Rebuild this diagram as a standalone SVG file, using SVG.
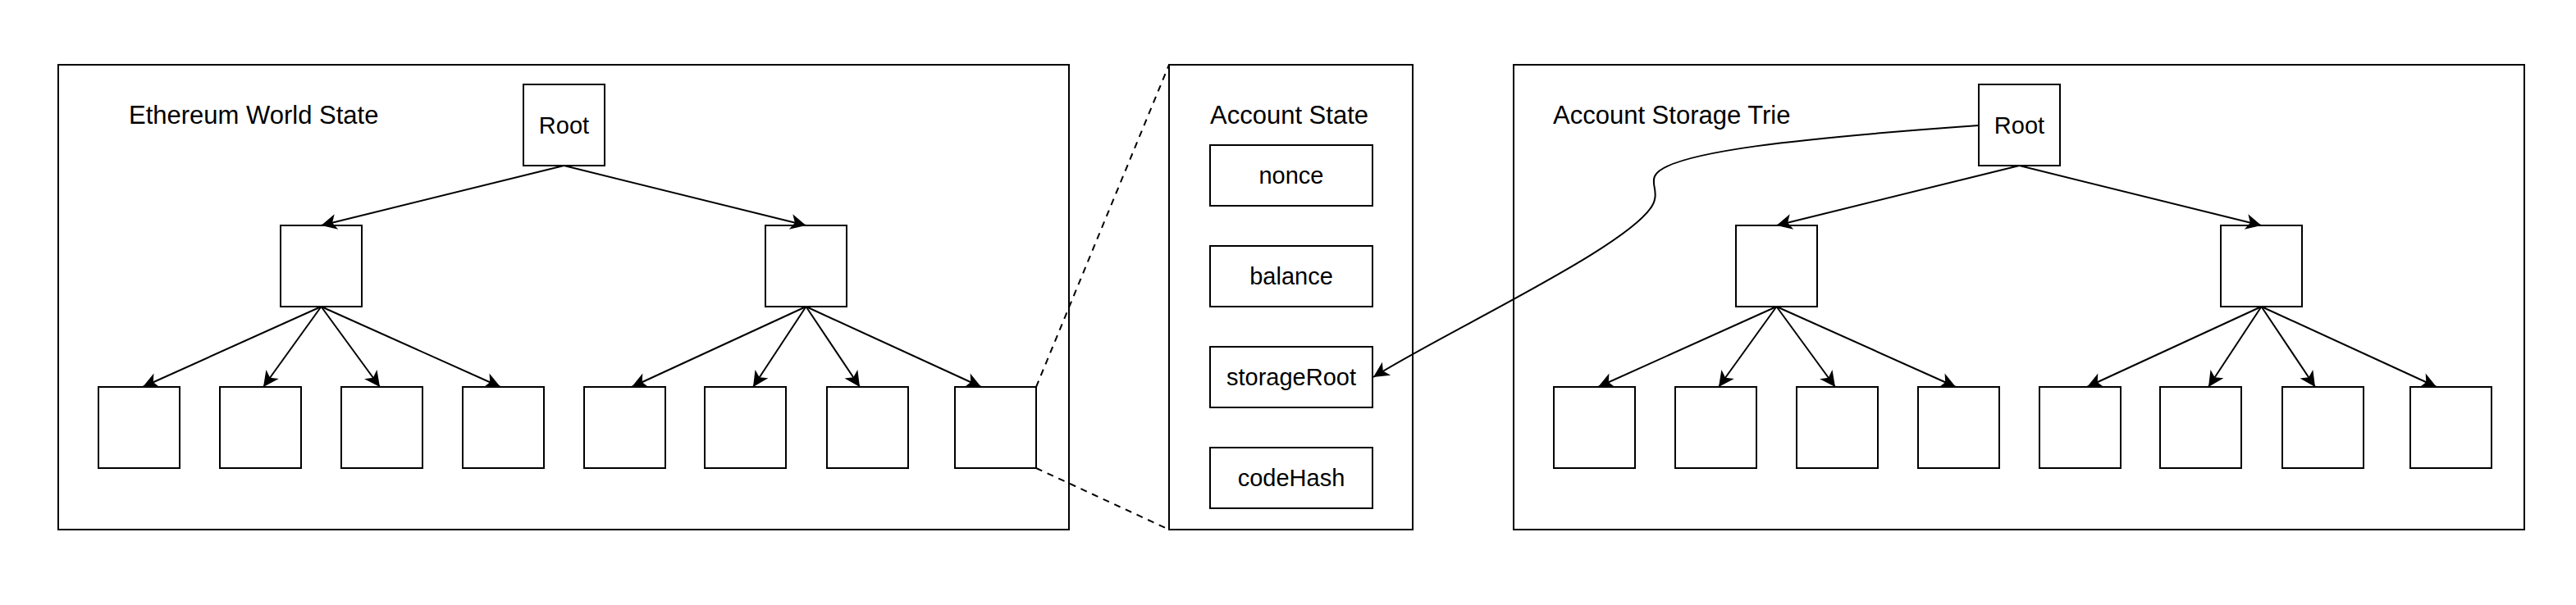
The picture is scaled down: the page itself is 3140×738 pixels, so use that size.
<svg xmlns="http://www.w3.org/2000/svg" width="3140" height="738" viewBox="0 0 3140 738">
  <style>
    .box { fill: #ffffff; stroke: #000000; stroke-width: 2; }
    .frame { fill: none; stroke: #000000; stroke-width: 2; }
    .edge { fill: none; stroke: #000000; stroke-width: 2; marker-end: url(#arrow); }
    .dash { fill: none; stroke: #000000; stroke-width: 2; stroke-dasharray: 8 7; }
    .title { font-family: "Liberation Sans", Arial, sans-serif; font-size: 31px; fill: #000000; }
    .label { font-family: "Liberation Sans", Arial, sans-serif; font-size: 29px; fill: #000000; text-anchor: middle; }
  </style>
  <defs>
    <marker id="arrow" markerUnits="userSpaceOnUse" viewBox="-21 -11 23 22" markerWidth="23" markerHeight="22" refX="0" refY="0" orient="auto">
      <path d="M0,0 L-19,-9.5 L-14,0 L-19,9.5 Z" fill="#000000"/>
    </marker>
  </defs>
  <rect width="3140" height="738" fill="#ffffff"/>

  <!-- Ethereum World State panel -->
  <g id="world-state">
    <rect class="frame" x="71" y="79" width="1232" height="567"/>
    <text class="title" x="157" y="151">Ethereum World State</text>
  </g>
  <g id="ws-root"><rect class="box" x="638" y="103" width="99" height="99"/><text class="label" x="687.5" y="163">Root</text></g>
  <g id="ws-mid-1"><rect class="box" x="342" y="275" width="99" height="99"/></g>
  <g id="ws-mid-2"><rect class="box" x="933" y="275" width="99" height="99"/></g>
  <g id="ws-leaf-1"><rect class="box" x="120" y="472" width="99" height="99"/></g>
  <g id="ws-leaf-2"><rect class="box" x="268" y="472" width="99" height="99"/></g>
  <g id="ws-leaf-3"><rect class="box" x="416" y="472" width="99" height="99"/></g>
  <g id="ws-leaf-4"><rect class="box" x="564" y="472" width="99" height="99"/></g>
  <g id="ws-leaf-5"><rect class="box" x="712" y="472" width="99" height="99"/></g>
  <g id="ws-leaf-6"><rect class="box" x="859" y="472" width="99" height="99"/></g>
  <g id="ws-leaf-7"><rect class="box" x="1008" y="472" width="99" height="99"/></g>
  <g id="ws-leaf-8"><rect class="box" x="1164" y="472" width="99" height="99"/></g>

  <!-- Account State panel -->
  <g id="account-state">
    <rect class="frame" x="1425" y="79" width="297" height="567"/>
    <text class="title" x="1475" y="151">Account State</text>
  </g>
  <g id="as-nonce"><rect class="box" x="1475" y="177" width="198" height="74"/><text class="label" x="1574" y="224">nonce</text></g>
  <g id="as-balance"><rect class="box" x="1475" y="300" width="198" height="74"/><text class="label" x="1574" y="347">balance</text></g>
  <g id="as-storageRoot"><rect class="box" x="1475" y="423" width="198" height="74"/><text class="label" x="1574" y="470">storageRoot</text></g>
  <g id="as-codeHash"><rect class="box" x="1475" y="546" width="198" height="74"/><text class="label" x="1574" y="593">codeHash</text></g>

  <!-- Account Storage Trie panel -->
  <g id="storage-trie">
    <rect class="frame" x="1845" y="79" width="1232" height="567"/>
    <text class="title" x="1893" y="151">Account Storage Trie</text>
  </g>
  <g id="st-root"><rect class="box" x="2412" y="103" width="99" height="99"/><text class="label" x="2461.5" y="163">Root</text></g>
  <g id="st-mid-1"><rect class="box" x="2116" y="275" width="99" height="99"/></g>
  <g id="st-mid-2"><rect class="box" x="2707" y="275" width="99" height="99"/></g>
  <g id="st-leaf-1"><rect class="box" x="1894" y="472" width="99" height="99"/></g>
  <g id="st-leaf-2"><rect class="box" x="2042" y="472" width="99" height="99"/></g>
  <g id="st-leaf-3"><rect class="box" x="2190" y="472" width="99" height="99"/></g>
  <g id="st-leaf-4"><rect class="box" x="2338" y="472" width="99" height="99"/></g>
  <g id="st-leaf-5"><rect class="box" x="2486" y="472" width="99" height="99"/></g>
  <g id="st-leaf-6"><rect class="box" x="2633" y="472" width="99" height="99"/></g>
  <g id="st-leaf-7"><rect class="box" x="2782" y="472" width="99" height="99"/></g>
  <g id="st-leaf-8"><rect class="box" x="2938" y="472" width="99" height="99"/></g>

  <g id="connectors">
    <!-- world state tree -->
    <path class="edge" d="M687.5,202 L391.5,275"/>
    <path class="edge" d="M687.5,202 L982.5,275"/>
    <path class="edge" d="M391.5,374 L174,472"/>
    <path class="edge" d="M391.5,374 L321,472"/>
    <path class="edge" d="M391.5,374 L463,472"/>
    <path class="edge" d="M391.5,374 L610,472"/>
    <path class="edge" d="M982.5,374 L770,472"/>
    <path class="edge" d="M982.5,374 L918,472"/>
    <path class="edge" d="M982.5,374 L1048,472"/>
    <path class="edge" d="M982.5,374 L1196,472"/>
    <!-- storage trie -->
    <path class="edge" d="M2461.5,202 L2165.5,275"/>
    <path class="edge" d="M2461.5,202 L2756.5,275"/>
    <path class="edge" d="M2165.5,374 L1948,472"/>
    <path class="edge" d="M2165.5,374 L2095,472"/>
    <path class="edge" d="M2165.5,374 L2237,472"/>
    <path class="edge" d="M2165.5,374 L2384,472"/>
    <path class="edge" d="M2756.5,374 L2544,472"/>
    <path class="edge" d="M2756.5,374 L2692,472"/>
    <path class="edge" d="M2756.5,374 L2822,472"/>
    <path class="edge" d="M2756.5,374 L2970,472"/>
    <!-- zoom lines -->
    <path class="dash" d="M1263,472 L1425,79"/>
    <path class="dash" d="M1263,571 L1425,646"/>
    <!-- storage root link -->
    <path class="edge" d="M2412,153 C2200,168 2030,185 2017,215 C2013,224 2020,232 2017,243 C2010,290 1760,405 1674,460"/>
  </g>
</svg>
